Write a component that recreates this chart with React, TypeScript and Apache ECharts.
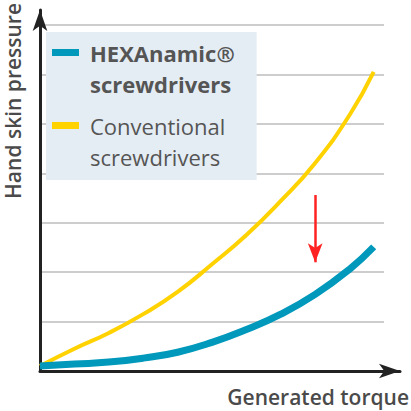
import { useEffect, useRef } from 'react';
import * as echarts from 'echarts';

// torque (x, 0..100 of the plot width) and hand skin pressure (y, grid units)
const torque = [0, 10, 20, 30, 40, 50, 60, 70, 80, 90, 97];
const hexanamicPressure = [0.1, 0.14, 0.18, 0.26, 0.38, 0.58, 0.84, 1.15, 1.55, 2.06, 2.51];
const conventionalPressure = [0.1, 0.45, 0.77, 1.15, 1.6, 2.16, 2.75, 3.44, 4.21, 5.18, 6.05];

const seriesNames = ['HEXAnamic® screwdrivers', 'Conventional screwdrivers'];
const axisTitles = ['Generated torque', 'Hand skin pressure'];

const pressureMax = 7;
const arrowTorque = 80;
const arrowPressure = [3.56, 2.2];

const FONT = '"Open Sans", "Noto Sans", sans-serif';

// legend swatch sits level with the first line of a two-line label
const SWATCH = 'path://M0,12h27v7h-27zM0,0M33,62';

export default function App() {
  const chartRef = useRef<HTMLDivElement>(null);

  useEffect(() => {
    if (!chartRef.current) return;
    const chart = echarts.init(chartRef.current, undefined, { renderer: 'svg' });

    const hidden = {
      axisLabel: { show: false },
      axisTick: { show: false },
      splitLine: { show: false },
    };
    const arrowLine = {
      show: true,
      symbol: ['none', 'arrow'],
      symbolSize: [11, 21],
      lineStyle: { color: '#222222', width: 3 },
    };
    const titleStyle = {
      fontFamily: FONT,
      fontSize: 21,
      fontWeight: 600,
      fill: '#4a4a4a',
      align: 'right',
      verticalAlign: 'middle',
    };

    const option: echarts.EChartsOption = {
      animation: false,
      backgroundColor: '#ffffff',
      grid: [
        { left: 40, right: 27, top: 25, bottom: 40 },
        { left: 40, right: 11, top: 10, bottom: 40 },
      ],
      xAxis: [
        { type: 'value', gridIndex: 0, min: 0, max: 100, axisLine: { show: false }, ...hidden },
        { type: 'value', gridIndex: 1, min: 0, max: 1, axisLine: arrowLine, ...hidden },
      ],
      yAxis: [
        {
          type: 'value',
          gridIndex: 0,
          min: 0,
          max: pressureMax,
          interval: 1,
          axisLine: { show: false },
          axisLabel: { show: false },
          axisTick: { show: false },
          splitLine: { show: true, lineStyle: { color: '#cdcdcd', width: 2 } },
        },
        { type: 'value', gridIndex: 1, min: 0, max: 1, axisLine: arrowLine, ...hidden },
      ],
      legend: {
        orient: 'vertical',
        left: 46,
        top: 32,
        selectedMode: false,
        icon: SWATCH,
        itemWidth: 33,
        itemHeight: 62,
        itemGap: 11,
        padding: [5, 22, 8, 6],
        backgroundColor: '#e5edf4',
        formatter: (name: string) => name.replace(' ', '\n'),
        textStyle: {
          fontFamily: FONT,
          fontSize: 22,
          lineHeight: 31,
          color: '#555555',
        },
        data: [
          { name: seriesNames[0], textStyle: { fontWeight: 'bold' } },
          { name: seriesNames[1], textStyle: { fontWeight: 'normal' } },
        ],
      },
      graphic: [
        { type: 'text', x: 409, y: 397, style: { text: axisTitles[0], ...titleStyle } },
        {
          type: 'text',
          x: 13,
          y: 3,
          rotation: Math.PI / 2,
          style: { text: axisTitles[1], ...titleStyle },
        },
      ],
      series: [
        {
          name: seriesNames[1],
          type: 'line',
          data: torque.map((t, i) => [t, conventionalPressure[i]]),
          smooth: 0.5,
          showSymbol: false,
          color: '#ffd200',
          lineStyle: { color: '#ffd200', width: 4 },
          z: 2,
        },
        {
          name: seriesNames[0],
          type: 'line',
          data: torque.map((t, i) => [t, hexanamicPressure[i]]),
          smooth: 0.5,
          showSymbol: false,
          color: '#0099bb',
          lineStyle: { color: '#0099bb', width: 7 },
          z: 3,
          markLine: {
            silent: true,
            symbol: ['none', 'arrow'],
            symbolSize: [11, 19],
            label: { show: false },
            lineStyle: { color: '#ff2222', width: 2.5, type: 'solid' },
            data: [
              [
                { coord: [arrowTorque, arrowPressure[0]] },
                { coord: [arrowTorque, arrowPressure[1]] },
              ],
            ],
          },
        },
      ],
    };

    chart.setOption(option);
    return () => chart.dispose();
  }, []);

  return (
    <div
      ref={chartRef}
      style={{ position: 'absolute', left: 0, top: 0, width: 411, height: 411 }}
    />
  );
}
